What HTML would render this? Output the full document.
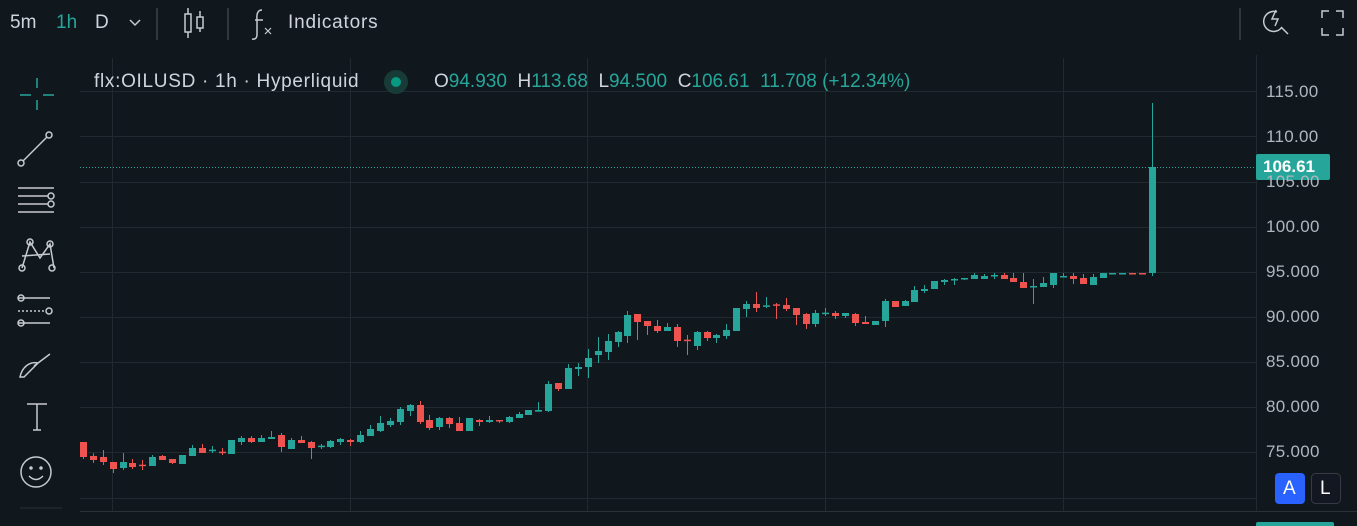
<!DOCTYPE html>
<html><head><meta charset="utf-8"><style>
body{margin:0;width:1357px;height:526px;overflow:hidden;background:#10181e;font-family:"Liberation Sans",sans-serif;color:#d1d4dc;position:relative}
.t{position:absolute;white-space:nowrap}
.ax{position:absolute;left:1266px;font-size:17px;color:#b2b5be;letter-spacing:0.3px}
</style></head><body>
<div class="t" style="left:10px;top:12px;font-size:19px">5m</div>
<div class="t" style="left:56px;top:12px;font-size:19px;color:#26a69a">1h</div>
<div class="t" style="left:95px;top:12px;font-size:19px">D</div>
<svg class="t" style="left:0;top:0" width="1357" height="526">
<g stroke="#c7cad1" fill="none" stroke-width="1.5">
<path d="M130 20l5 5 5-5"/>
<line x1="157" y1="8" x2="157" y2="40" stroke="#3a4249"/>
<line x1="228" y1="8" x2="228" y2="40" stroke="#3a4249"/>
<line x1="1240" y1="8" x2="1240" y2="40" stroke="#3a4249"/>
<rect x="185" y="14" width="6" height="18"/><line x1="188" y1="8" x2="188" y2="14"/><line x1="188" y1="32" x2="188" y2="38"/>
<rect x="197" y="17" width="6" height="11"/><line x1="200" y1="11" x2="200" y2="17"/><line x1="200" y1="28" x2="200" y2="32"/>
<path d="M1277 12a10 10 0 1 0 5 15M1281 27l7 7M1276 10l-4 9h6l-3 7"/>
<path d="M1322 18v-7h7M1336 11h7v7M1343 28v7h-7M1329 35h-7v-7"/>
<g stroke="#26a69a"><line x1="37" y1="78" x2="37" y2="88"/><line x1="37" y1="100" x2="37" y2="110"/><line x1="20" y1="95" x2="31" y2="95"/><line x1="43" y1="95" x2="54" y2="95"/></g>
<line x1="22" y1="162" x2="48" y2="136"/><circle cx="21" cy="163" r="3" fill="#10181e"/><circle cx="49" cy="135" r="3" fill="#10181e"/>
<line x1="18" y1="188" x2="54" y2="188"/><line x1="18" y1="196" x2="48" y2="196"/><line x1="18" y1="204" x2="48" y2="204"/><line x1="18" y1="212" x2="54" y2="212"/><circle cx="51" cy="196" r="3"/><circle cx="51" cy="204" r="3"/>
<path d="M22 268l8-26 10 16 10-14 4 24M22 256l28-2"/><circle cx="22" cy="268" r="3"/><circle cx="30" cy="242" r="3"/><circle cx="50" cy="244" r="3"/><circle cx="52" cy="268" r="3"/>
<line x1="18" y1="298" x2="50" y2="298"/><line x1="18" y1="311" x2="46" y2="311" stroke-dasharray="2 2"/><line x1="18" y1="323" x2="50" y2="323"/><circle cx="21" cy="298" r="3"/><circle cx="49" cy="311" r="3"/><circle cx="21" cy="323" r="3"/>
<path d="M20 377c2-10 10-16 18-14l-14 14zM34 366l16-12"/>
<path d="M27 404h20M37 404v26M33 430h8"/>
<circle cx="36" cy="472" r="15"/><circle cx="31" cy="468" r="1" fill="#c7cad1"/><circle cx="41" cy="468" r="1" fill="#c7cad1"/><path d="M29 476q7 7 14 0"/>
</g>
<g stroke="#c7cad1" fill="none" stroke-width="1.5"><path d="M262 10q-6 0-5 10v14q0 6-5 5M255 20h8"/><path d="M265 28l6 6M271 28l-6 6" stroke-width="1.2"/></g>
<line x1="20" y1="508" x2="62" y2="508" stroke="#2a3238"/>
<g id="grid" stroke="#1f2a31" stroke-width="1"></g>
<line x1="80" y1="167.5" x2="1256" y2="167.5" stroke="#26a69a" stroke-dasharray="1 2" stroke-width="1"/>
<line x1="80" y1="511.5" x2="1357" y2="511.5" stroke="#2a3238"/>
<line x1="1256.5" y1="55" x2="1256.5" y2="511" stroke="#1f2a31"/>
<g id="c"></g>
<circle cx="396" cy="82" r="12" fill="#173b37"/><circle cx="396" cy="82" r="5" fill="#089981"/>
<rect x="1256" y="154" width="74" height="26" rx="2" fill="#26a69a"/>
<rect x="1256" y="522" width="78" height="10" rx="2" fill="#26a69a"/>
<rect x="1275" y="473" width="30" height="31" rx="4" fill="#2962ff"/>
<rect x="1311.5" y="473.5" width="29" height="30" rx="4" fill="#131722" stroke="#363a45"/>
</svg>
<div class="t" style="left:288px;top:12px;font-size:19px;letter-spacing:0.8px">Indicators</div>
<div class="t" style="left:94px;top:71px;font-size:19px;letter-spacing:0.7px">flx:OILUSD · 1h · Hyperliquid</div>
<div class="t" style="left:434px;top:71px;font-size:19px">O<span style="color:#26a69a">94.930</span>&nbsp; H<span style="color:#26a69a">113.68</span>&nbsp; L<span style="color:#26a69a">94.500</span>&nbsp; C<span style="color:#26a69a">106.61&nbsp; 11.708 (+12.34%)</span></div>
<div class="ax" style="top:82px">115.00</div>
<div class="ax" style="top:127px">110.00</div>
<div class="ax" style="top:172px">105.00</div>
<div class="ax" style="top:217px">100.00</div>
<div class="ax" style="top:262px">95.000</div>
<div class="ax" style="top:307px">90.000</div>
<div class="ax" style="top:352px">85.000</div>
<div class="ax" style="top:397px">80.000</div>
<div class="ax" style="top:442px">75.000</div>
<div class="t" style="left:1263px;top:157px;font-size:17px;color:#fff;font-weight:bold">106.61</div>
<div class="t" style="left:1283px;top:478px;font-size:19px;color:#fff">A</div>
<div class="t" style="left:1320px;top:478px;font-size:19px;color:#fff">L</div>
<script>
var ns="http://www.w3.org/2000/svg";
var g=document.getElementById('grid');
function ln(x1,y1,x2,y2){var l=document.createElementNS(ns,'line');l.setAttribute('x1',x1);l.setAttribute('y1',y1);l.setAttribute('x2',x2);l.setAttribute('y2',y2);g.appendChild(l);}
[91,136,182,227,272,317,362,407,452,498].forEach(function(y){ln(80,y+.5,1256,y+.5);});
[112,350,587,825,1063].forEach(function(x){ln(x+.5,58,x+.5,511);});
var G1=[[186,231,186,237,0],[228,240,220,249,0],[231,246,210,255,0],[246,267,246,279,0],[246,264,219,270,1],[249,261,237,267,0],[254,257,240,270,0],[231,258,225,258,1],[228,240,225,240,0],[237,249,237,252,0],[225,252,225,252,1],[204,228,195,228,1],[204,219,192,219,0],[209,212,198,219,1],[215,218,204,225,0],[180,222,180,222,1],[174,186,168,195,1],[174,186,168,189,0],[174,186,165,186,1],[171,177,153,177,1],[165,201,159,216,0],[180,207,174,207,1],[180,189,168,189,0],[186,204,183,237,0],[197,200,192,207,1],[183,201,180,204,1],[177,186,174,195,1],[180,186,177,198,0],[165,186,153,189,1],[147,168,135,168,1],[129,153,108,156,1],[123,135,114,141,1],[87,126,81,135,1],[75,93,72,108,1],[75,126,63,132,0],[120,144,105,150,0],[114,141,111,150,1],[114,132,111,144,0],[129,153,111,153,0],[114,153,114,153,1],[120,126,117,138,0],[120,126,108,129,1],[120,123,120,129,0],[111,126,108,129,1],[102,114,96,114,1]];
var G2=[[390,405,390,405,1],[390,395,366,395,1],[312,393,303,396,1],[309,327,309,333,0],[264,327,252,327,1],[261,267,249,288,1],[234,261,207,294,1],[213,225,171,249,1],[183,216,162,240,1],[156,186,153,201,1],[105,168,93,189,1],[102,126,102,180,0],[123,138,123,165,0],[138,153,120,159,0],[141,153,129,153,1],[141,183,132,201,0],[179,183,165,225,0],[156,198,153,210,1],[156,174,153,183,0],[165,174,162,189,1],[150,168,132,177,1],[84,153,84,153,1],[72,87,63,111,1],[72,84,36,96,0],[76,80,51,84,1],[73,77,69,117,0],[75,87,54,93,0],[84,105,84,135,0],[102,132,99,147,0],[99,132,90,141,1],[98,102,84,108,1],[99,108,93,117,0],[99,108,99,114,1],[102,129,99,138,0],[126,132,108,132,0],[123,135,123,135,1],[63,123,57,141,1],[63,81,63,81,0],[63,78,60,78,1],[30,66,18,66,1]];
var G3=[[102,108,90,114,1],[78,102,78,102,1],[75,81,72,90,1],[72,75,69,90,1],[69,72,69,75,1],[60,72,54,72,1],[63,72,57,72,1],[60,63,54,72,1],[60,72,54,72,0],[69,81,54,81,0],[81,99,54,99,0],[93,96,72,147,1],[84,96,66,96,1],[54,90,54,99,1],[63,66,54,66,1],[63,72,54,87,0],[69,87,57,87,0],[66,90,57,90,1],[54,69,54,69,1],[54,57,54,57,1],[54,57,54,57,1],[54,57,54,57,0],[54,57,54,57,0]];
var all=[];
G1.forEach(function(d){all.push([380+d[0]/3,380+d[1]/3,380+d[2]/3,380+d[3]/3,d[4]]);});
G2.forEach(function(d){all.push([280+d[0]/3,280+d[1]/3,280+d[2]/3,280+d[3]/3,d[4]]);});
G3.forEach(function(d){all.push([255+d[0]/3,255+d[1]/3,255+d[2]/3,255+d[3]/3,d[4]]);});
all.push([167,273,103,276,1]);
var c=document.getElementById('c');
all.forEach(function(d,i){
 var x=Math.round(83+i*(1069/108));var col=d[4]?'#26a69a':'#ef5350';
 var w=document.createElementNS(ns,'rect');w.setAttribute('x',x);w.setAttribute('y',d[2]);w.setAttribute('width',1);w.setAttribute('height',Math.max(1,d[3]-d[2]));w.setAttribute('fill',col);c.appendChild(w);
 var b=document.createElementNS(ns,'rect');b.setAttribute('x',x-3);b.setAttribute('y',d[0]);b.setAttribute('width',7);b.setAttribute('height',Math.max(1.5,d[1]-d[0]));b.setAttribute('fill',col);c.appendChild(b);
});
</script>
</body></html>
